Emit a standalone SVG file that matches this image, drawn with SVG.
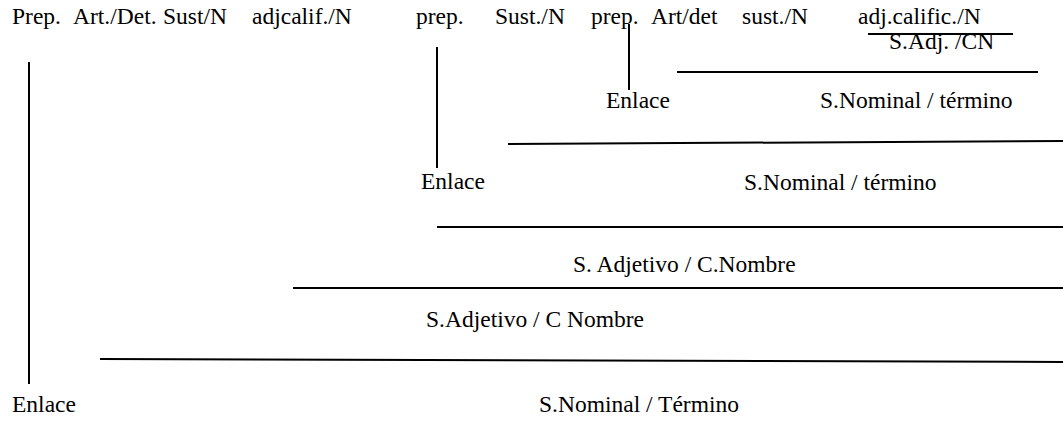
<svg xmlns="http://www.w3.org/2000/svg" width="1063" height="440" viewBox="0 0 1063 440">
<style>
text{font-family:'Liberation Serif','Times New Roman','DejaVu Serif',serif;font-size:23.5px;fill:#000}
line{stroke:#000;stroke-width:2}
</style>
<rect width="1063" height="440" fill="#fff"/>
<g id="words" font-family="Liberation Serif, Times New Roman, DejaVu Serif, serif">
<text x="12" y="24">Prep.</text>
<text x="73" y="24">Art./Det.</text>
<text x="163" y="24">Sust/N</text>
<text x="252" y="24">adjcalif./N</text>
<text x="416" y="24">prep.</text>
<text x="495" y="24">Sust./N</text>
<text x="591" y="24">prep.</text>
<text x="651" y="24">Art/det</text>
<text x="742" y="24">sust./N</text>
<text x="858" y="24">adj.calific./N</text>
</g>
<g id="connectors">
<line x1="868" y1="34" x2="1013" y2="34"/>
<line x1="629" y1="24" x2="629" y2="90"/>
<line x1="677" y1="72" x2="1038" y2="72"/>
<line x1="508" y1="144" x2="1063" y2="141"/>
<line x1="437" y1="47" x2="437" y2="168"/>
<line x1="437" y1="227" x2="1063" y2="227"/>
<line x1="293" y1="288" x2="1063" y2="288"/>
<line x1="100" y1="359" x2="1063" y2="362"/>
<line x1="29" y1="62" x2="29" y2="384"/>
</g>
<g id="n-sadj-cn"><text x="889" y="49">S.Adj. /CN</text></g>
<g id="n-enlace-3"><text x="606" y="108">Enlace</text></g>
<g id="n-snom-3"><text x="820" y="108">S.Nominal / término</text></g>
<g id="n-enlace-2"><text x="421" y="189">Enlace</text></g>
<g id="n-snom-2"><text x="744" y="190">S.Nominal / término</text></g>
<g id="n-sadj-2"><text x="573" y="272">S. Adjetivo / C.Nombre</text></g>
<g id="n-sadj-1"><text x="426" y="327">S.Adjetivo / C Nombre</text></g>
<g id="n-enlace-1"><text x="12" y="412">Enlace</text></g>
<g id="n-snom-1"><text x="539" y="412">S.Nominal / Término</text></g>
</svg>
